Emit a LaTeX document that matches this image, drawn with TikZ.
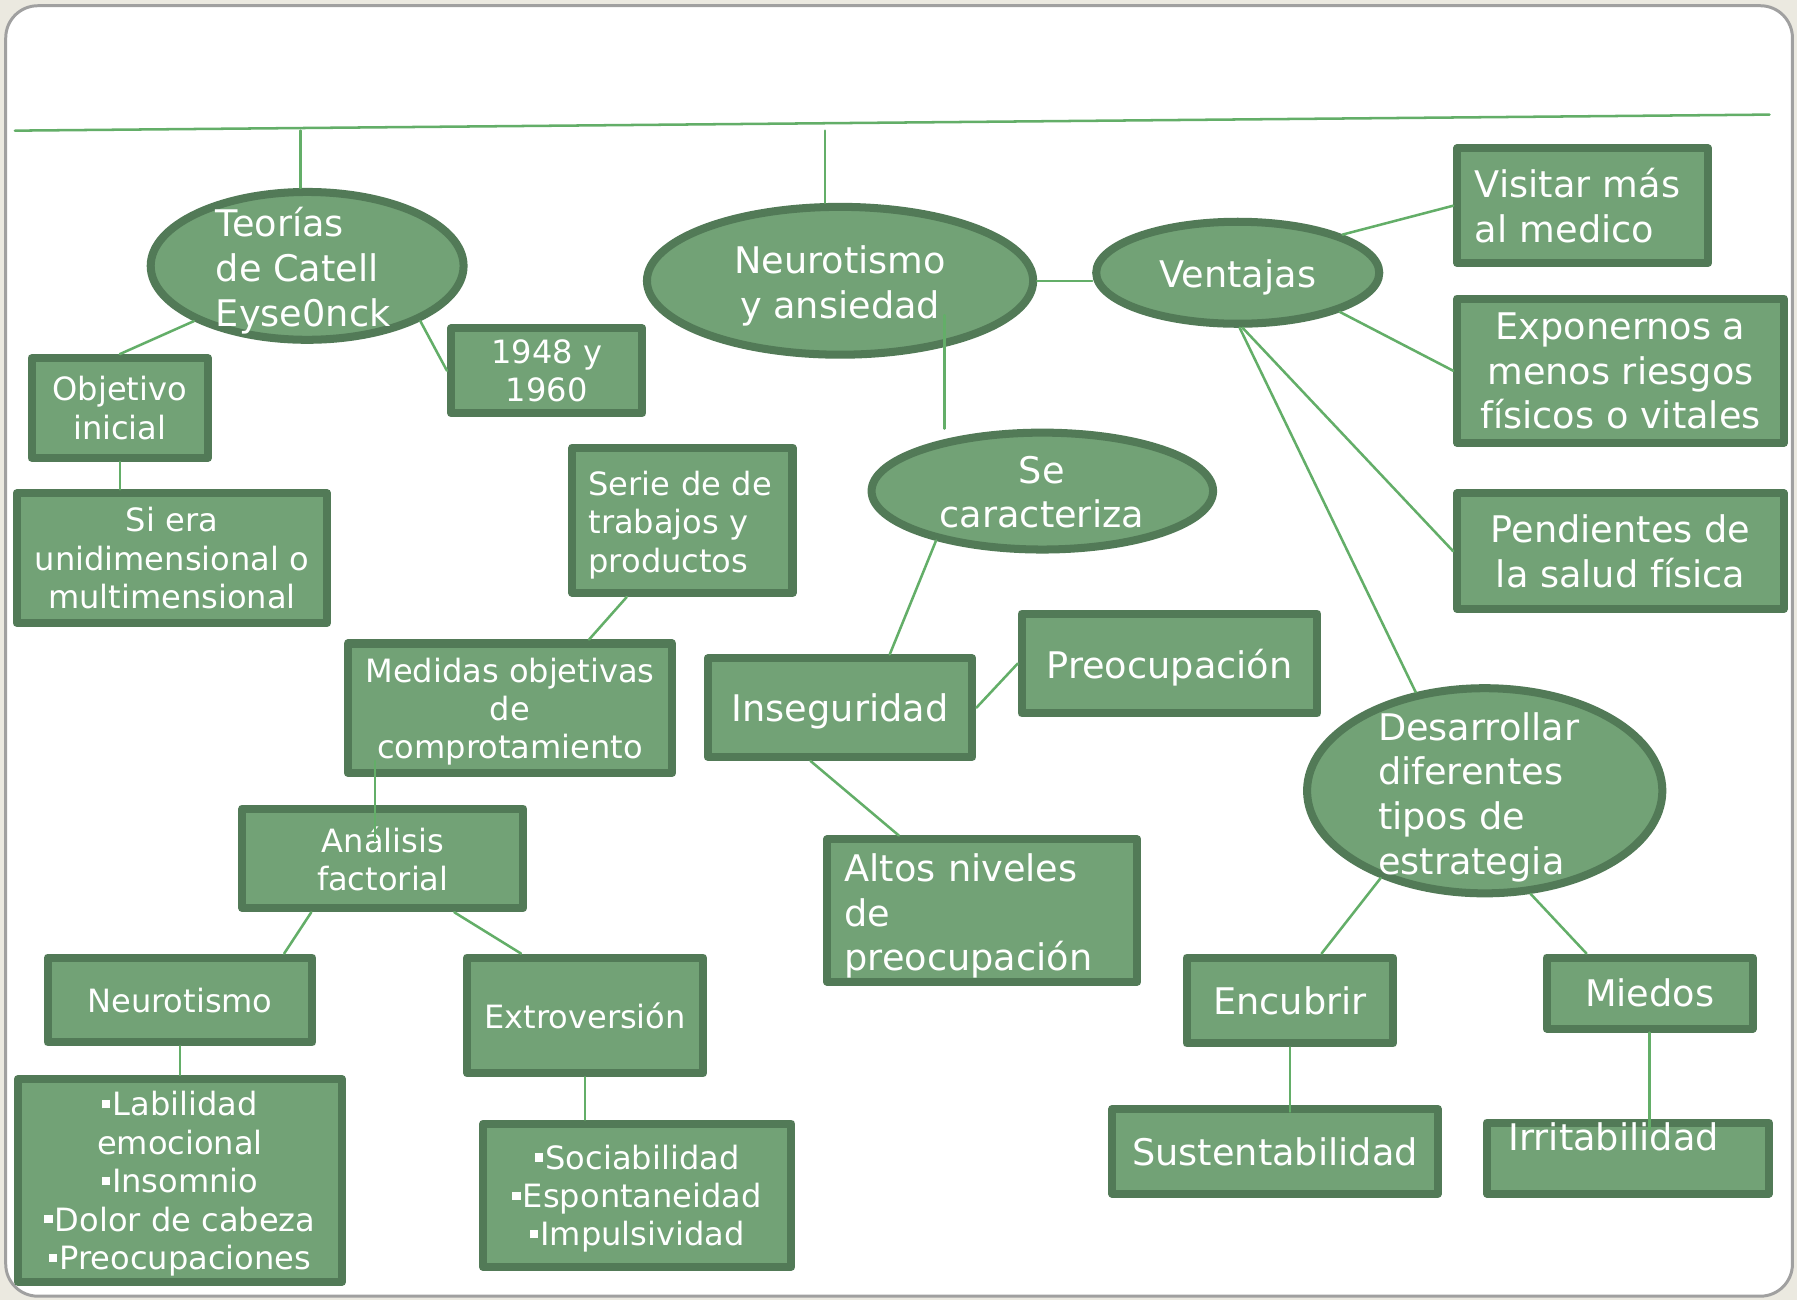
\documentclass[tikz,border=0pt]{standalone}
\usepackage{fontspec}
\setmainfont{DejaVu Sans}
\usetikzlibrary{shapes.geometric}
\usetikzlibrary{calc}
\usetikzlibrary{positioning}

\definecolor{relleno}{RGB}{114,162,118}
\definecolor{borde}{RGB}{82,122,87}
\definecolor{linea}{RGB}{99,174,104}
\definecolor{fondo}{RGB}{235,233,224}
\definecolor{marco}{RGB}{160,160,160}

\newcommand{\grande}{\fontsize{16}{19.5}\selectfont}
\newcommand{\chica}{\fontsize{14}{16.75}\selectfont}
\newcommand{\bol}{\rule[3.3pt]{3.6pt}{3.6pt}\hspace{1pt}}

\begin{document}
\begin{tikzpicture}[line cap=round,line join=round,x=0.5pt,y=-0.5pt,
    verde/.style={draw=borde,fill=relleno,line width=3.5pt,text=white,inner sep=0pt},
    caja/.style={verde,align=center,text depth=0pt},
    cajaizq/.style={verde,align=left},
    elipse/.style={ellipse,draw=borde,fill=relleno,line width=3.5pt,inner sep=0pt},
    etiq/.style={text=white,inner sep=0pt},
    enlace/.style={draw=linea,line width=1.1pt}]
      \useasboundingbox (0,0) rectangle (1568,1134);
      \fill[fondo] (0,0) rectangle (1568,1134);
      \draw[marco,fill=white,line width=1.3pt,rounded corners=14pt] (5,5) rectangle (1564,1131);

      % elipses
      \node[elipse,minimum width=136.5pt,minimum height=64.5pt] (teorias) at (268,232) {};
      \node[etiq,anchor=west,align=left,font=\grande] (teorias-t) at (188,236) {Teorías\\de Catell\\Eyse0nck};
      \node[elipse,minimum width=168.5pt,minimum height=64.5pt] (neuro) at (733,245) {};
      \node[etiq,align=center,font=\grande] (neuro-t) at (733,249.5) {Neurotismo\\y ansiedad};
      \node[elipse,minimum width=123.5pt,minimum height=44.5pt] (ventajas) at (1080,238) {};
      \node[etiq,font=\grande] (ventajas-t) at (1080,242) {Ventajas};
      \node[elipse,minimum width=149pt,minimum height=51pt] (secar) at (909.5,428.5) {};
      \node[etiq,align=center,font=\grande] (secar-t) at (909,429.5) {Se\\caracteriza};
      \node[elipse,minimum width=155pt,minimum height=89.5pt] (desarr) at (1295.5,690) {};
      \node[etiq,anchor=west,align=left,font=\grande] (desarr-t) at (1202,695.5) {Desarrollar\\diferentes\\tipos de\\estrategia};

      % cajas, lado izquierdo
      \node[caja,minimum width=77pt,minimum height=43.5pt,font=\chica] (objetivo) at (104.5,356) {Objetivo\\inicial};
      \node[caja,minimum width=135.5pt,minimum height=56.5pt,font=\chica] (siera) at (150,487) {Si era\\unidimensional o\\multimensional};
      \node[caja,minimum width=83.5pt,minimum height=37pt,font=\chica] (anio) at (477,323.5) {1948 y\\1960};
      \node[cajaizq,minimum width=96pt,minimum height=63.5pt,text width=82pt,font=\chica] (serie) at (595.5,454) {\rule{0pt}{14.6pt}Serie de de\\trabajos y\\productos};
      \node[caja,minimum width=141.5pt,minimum height=56.5pt,font=\chica] (medidas) at (445,618) {Medidas objetivas\\de\\comprotamiento};
      \node[caja,minimum width=122.5pt,minimum height=43.5pt,font=\chica] (analisis) at (334,749) {Análisis\\factorial};
      \node[caja,minimum width=115.5pt,minimum height=37pt,font=\chica] (neurob) at (157,872.5) {Neurotismo};
      \node[caja,minimum width=103pt,minimum height=50.5pt,font=\chica] (extro) at (510.5,886) {Extroversión};
      \node[caja,minimum width=141.5pt,minimum height=88.5pt,font=\chica] (labil) at (157,1030) {\bol Labilidad\\emocional\\\bol Insomnio\\\bol Dolor de cabeza\\\bol Preocupaciones};
      \node[caja,minimum width=134.5pt,minimum height=62.5pt,font=\chica] (socio) at (556,1043) {\bol Sociabilidad\\\bol Espontaneidad\\\bol Impulsividad};

      % cajas, centro y derecha
      \node[caja,minimum width=115.5pt,minimum height=43pt,font=\grande] (inseg) at (733,617.5) {Inseguridad};
      \node[caja,minimum width=129pt,minimum height=43.5pt,font=\grande] (preoc) at (1020.5,579) {Preocupación};
      \node[cajaizq,minimum width=135.5pt,minimum height=62pt,text width=120pt,font=\grande] (altos) at (857,794.5) {\rule{0pt}{17pt}Altos niveles\\de\\preocupación};
      \node[cajaizq,minimum width=109.5pt,minimum height=50pt,text width=94pt,font=\grande] (visitar) at (1381,179.5) {Visitar más\\al medico};
      \node[caja,minimum width=142.5pt,minimum height=63pt,font=\grande] (expon) at (1414,323.5) {Exponernos a\\menos riesgos\\físicos o vitales};
      \node[caja,minimum width=142.5pt,minimum height=50.5pt,font=\grande] (pend) at (1414,481) {Pendientes de\\la salud física};
      \node[caja,minimum width=90pt,minimum height=37.5pt,font=\grande] (encubrir) at (1125.5,873) {Encubrir};
      \node[caja,minimum width=90pt,minimum height=31pt,font=\grande] (miedos) at (1439.5,866.5) {Miedos};
      \node[caja,minimum width=142pt,minimum height=37pt,font=\grande] (sust) at (1112.5,1004.5) {Sustentabilidad};
      \node[caja,minimum width=123pt,minimum height=31pt] (irrit) at (1420.5,1010.5) {};
      \node[etiq,font=\grande] (irrit-t) at (1408,992) {Irritabilidad};

      % lineas
      \coordinate (izq) at (13,114);
      \coordinate (der) at (1544,100);
      \coordinate (c1) at (262,114);
      \coordinate (c2) at (720,114);
      \coordinate (c3) at (824,275);
      \draw[enlace] (izq) -- (der);
      \draw[enlace] (c1) -- (c1 |- teorias.north);
      \draw[enlace] (c2) -- (c2 |- neuro.north);
      \draw[enlace] (neuro.east) -- (neuro.east -| ventajas.west);
      \draw[enlace] (ventajas.20) -- (visitar.west);
      \draw[enlace] (ventajas.-21) -- (expon.west);
      \draw[enlace] (ventajas.-85) -- (pend.west);
      \draw[enlace] (ventajas.-88) -- (desarr.125);
      \draw[enlace] (desarr.-140) -- (encubrir.56);
      \draw[enlace] (desarr.-66) -- (miedos.148);
      \draw[enlace] (encubrir.south) -- ($(encubrir.south |- sust.north)+(0,6)$);
      \draw[enlace] (miedos.south) -- ($(miedos.south |- irrit.north)+(0,9)$);
      \draw[enlace] (c3) -- (c3 |- secar.north);
      \draw[enlace] (secar.205) -- (inseg.47);
      \draw[enlace] (inseg.east) -- (preoc.west);
      \draw[enlace] (inseg.-119) -- (altos.138);
      \draw[enlace] (teorias.206) -- (objetivo.north);
      \draw[enlace] (teorias.-26) -- (anio.west);
      \draw[enlace] (objetivo.south) -- (objetivo.south |- siera.north);
      \draw[enlace] (serie.-126.5) -- (medidas.41.4);
      \draw[enlace] ([xshift=-59pt,yshift=7pt]medidas.south) -- ([xshift=-3.5pt,yshift=-16pt]analisis.north);
      \draw[enlace] (analisis.-143) -- (neurob.24);
      \draw[enlace] (analisis.-37) -- (extro.136);
      \draw[enlace] (neurob.south) -- (labil.north);
      \draw[enlace] (extro.south) -- (extro.south |- socio.north);
\end{tikzpicture}
\end{document}
